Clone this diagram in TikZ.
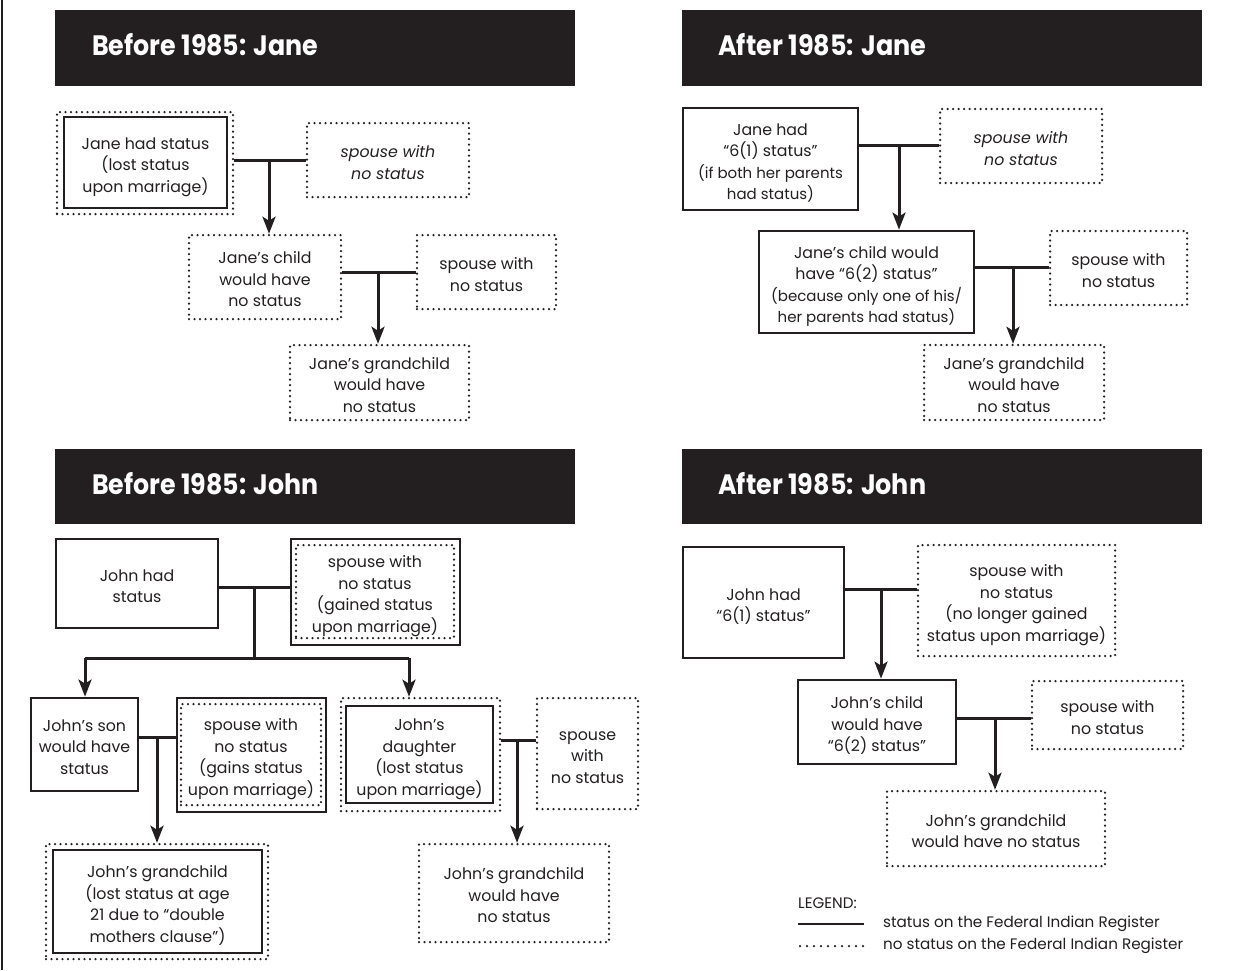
\documentclass[tikz,border=0pt]{standalone}
\usepackage{fontspec}
\setmainfont{Poppins}
\usetikzlibrary{arrows.meta}
\definecolor{ink}{HTML}{231F20}
\newcommand\maintext{\fontsize{15.8}{21.5}\selectfont}
\newcommand\smalltext{\fontsize{15}{21.5}\selectfont}
\newcommand\legtext{\fontsize{15.2}{21}\selectfont}
\newcommand\bt[1]{\raisebox{-4pt}[\height][\depth]{\begin{tabular}{@{}c@{}}#1\end{tabular}}}
\begin{document}
\begin{tikzpicture}[x=1pt,y=-1pt,
  sz/.style n args={2}{minimum width=#1 pt, minimum height=#2 pt},
  solidbox/.style={draw=ink, line width=2.8pt, rectangle, inner sep=0pt, font=\maintext, text=ink},
  dotbox/.style={draw=ink, line width=2.5pt, dash pattern=on 0pt off 5.5pt, line cap=round, rectangle, inner sep=0pt, font=\maintext, text=ink},
  conn/.style={draw=ink, line width=3pt},
  arr/.style={conn, -{Stealth[length=17pt,width=13pt,inset=4pt]}},
  dotline/.style={draw=ink, line width=2.5pt, dash pattern=on 0pt off 7pt, line cap=round},
  header/.style={fill=ink, inner sep=0pt, rectangle},
  title/.style={text=white, inner sep=0pt, anchor=base west, font=\bfseries}
]
\useasboundingbox (0,0) rectangle (1243,970);
\fill[white] (0,0) rectangle (1243,970);
% left border
\coordinate (bt) at (2,0);
\coordinate (bb) at (2,970);
\draw[ink, line width=2pt] (bt) -- (bb);

% ===== Headers =====
\node[header, sz={520}{76}] (h1) at (315,48) {};
\node[title] (t1) at (92,55) {\resizebox{226pt}{22pt}{Before 1985: Jane}};
\node[header, sz={520}{76}] (h2) at (942,48) {};
\node[title] (t2) at (718,55) {\resizebox{208pt}{22pt}{After 1985: Jane}};
\node[header, sz={520}{75}] (h3) at (315,486.5) {};
\node[title] (t3) at (92,494) {\resizebox{226pt}{22pt}{Before 1985: John}};
\node[header, sz={520}{75}] (h4) at (942,486.5) {};
\node[title] (t4) at (718,494) {\resizebox{208pt}{22pt}{After 1985: John}};

% ===== Q1: Before 1985 Jane =====
\node[dotbox, sz={176}{102}] (janeo) at (145,163) {};
\node[solidbox, sz={163}{91}] (jane) at (145.5,162.5) {\bt{Jane had status\\(lost status\\upon marriage)}};
\node[dotbox, sz={162}{74}] (sp1) at (388,160) {\bt{\itshape spouse with\\\itshape no status}};
\node[dotbox, sz={152}{84}] (ch1) at (265,277) {\bt{Jane’s child\\would have\\no status}};
\node[dotbox, sz={139}{74}] (sp2) at (486.5,272) {\bt{spouse with\\no status}};
\node[dotbox, sz={179}{75}] (gc1) at (379.5,382.5) {\bt{Jane’s grandchild\\would have\\no status}};
\coordinate (q1a) at (269,160);
\draw[conn] (janeo.east |- q1a) -- (sp1.west |- q1a);
\draw[arr] (q1a) -- (q1a |- ch1.north);
\coordinate (q1b) at (378,272);
\draw[conn] (ch1.east |- q1b) -- (sp2.west |- q1b);
\draw[arr] (q1b) -- (q1b |- gc1.north);

% ===== Q2: After 1985 Jane =====
\node[solidbox, sz={175}{102}] (jane2) at (770.5,159) {\bt{Jane had\\“6(1) status”\\\smalltext (if both her parents\\\smalltext had status)}};
\node[dotbox, sz={162}{74}] (sp3) at (1021,146) {\bt{\itshape spouse with\\\itshape no status}};
\node[solidbox, sz={215}{102}] (ch2) at (866.5,282) {\bt{Jane’s child would\\have “6(2) status”\\\smalltext (because only one of his/\\\smalltext her parents had status)}};
\node[dotbox, sz={137}{74}] (sp4) at (1118.5,268) {\bt{spouse with\\no status}};
\node[dotbox, sz={180}{75}] (gc2) at (1014,382.5) {\bt{Jane’s grandchild\\would have\\no status}};
\coordinate (q2a) at (899,145);
\draw[conn] (jane2.east |- q2a) -- (sp3.west |- q2a);
\draw[arr] (q2a) -- (q2a |- ch2.north);
\coordinate (q2b) at (1013,267);
\draw[conn] (ch2.east |- q2b) -- (sp4.west |- q2b);
\draw[arr] (q2b) -- (q2b |- gc2.north);

% ===== Q3: Before 1985 John =====
\node[solidbox, sz={162}{89}] (john) at (137,583.5) {\bt{John had\\status}};
\node[solidbox, sz={169}{106}] (jspo) at (375.5,592) {};
\node[dotbox, sz={158}{93}] (jsp) at (375,591.5) {\bt{spouse with\\no status\\(gained status\\upon marriage)}};
\node[solidbox, sz={107}{93}] (son) at (84.5,744.5) {\bt{John’s son\\would have\\status}};
\node[solidbox, sz={149}{114}] (sspo) at (251.5,755) {};
\node[dotbox, sz={140}{101}] (ssp) at (251,754.5) {\bt{spouse with\\no status\\(gains status\\upon marriage)}};
\node[dotbox, sz={159}{113}] (dauo) at (420.5,754.5) {};
\node[solidbox, sz={147}{97}] (dau) at (419.5,754.5) {\bt{John’s\\daughter\\(lost status\\upon marriage)}};
\node[dotbox, sz={101}{111}] (dsp) at (587.5,753.5) {\bt{spouse\\with\\no status}};
\node[dotbox, sz={222}{115}] (gc3o) at (157,901.5) {};
\node[solidbox, sz={209}{103}] (gc3) at (157.5,901.5) {\bt{John’s grandchild\\(lost status at age\\21 due to “double\\mothers clause”)}};
\node[dotbox, sz={190}{98}] (gc4) at (514,893) {\bt{John’s grandchild\\would have\\no status}};
\coordinate (q3a) at (254,587);
\coordinate (q3b) at (254,658);
\coordinate (q3c) at (85,658);
\coordinate (q3d) at (409,658);
\draw[conn] (john.east |- q3a) -- (jspo.west |- q3a);
\draw[conn] (q3a) -- (q3b);
\draw[conn] (q3c) -- (q3d);
\draw[arr] (q3c) -- (q3c |- son.north);
\draw[arr] (q3d) -- (q3d |- dauo.north);
\coordinate (q3e) at (157,737);
\draw[conn] (son.east |- q3e) -- (sspo.west |- q3e);
\draw[arr] (q3e) -- (q3e |- gc3o.north);
\coordinate (q3f) at (517,740);
\draw[conn] (dauo.east |- q3f) -- (dsp.west |- q3f);
\draw[arr] (q3f) -- (q3f |- gc4.north);

% ===== Q4: After 1985 John =====
\node[solidbox, sz={161}{111}] (john2) at (763.5,602.5) {\bt{John had\\“6(1) status”}};
\node[dotbox, sz={197}{111}] (sp5) at (1016.5,600.5) {\bt{spouse with\\no status\\(no longer gained\\status upon marriage)}};
\node[solidbox, sz={158}{84}] (ch4) at (877,722) {\bt{John’s child\\would have\\“6(2) status”}};
\node[dotbox, sz={151}{68}] (sp6) at (1107.5,715) {\bt{spouse with\\no status}};
\node[dotbox, sz={218}{75}] (gc5) at (996,828.5) {\bt{John’s grandchild\\would have no status}};
\coordinate (q4a) at (881,589);
\draw[conn] (john2.east |- q4a) -- (sp5.west |- q4a);
\draw[arr] (q4a) -- (q4a |- ch4.north);
\coordinate (q4b) at (995,718);
\draw[conn] (ch4.east |- q4b) -- (sp6.west |- q4b);
\draw[arr] (q4b) -- (q4b |- gc5.north);

% ===== Legend =====
\node[anchor=west, inner sep=0pt, font=\legtext, text=ink] (leg) at (798,903) {LEGEND:};
\coordinate (l1a) at (798,924);
\coordinate (l1b) at (864,924);
\coordinate (l2a) at (800,946);
\coordinate (l2b) at (864,946);
\draw[conn, line width=2.6pt] (l1a) -- (l1b);
\draw[dotline] (l2a) -- (l2b);
\node[anchor=west, inner sep=0pt, font=\legtext, text=ink] (leg1) at (883,924) {status on the Federal Indian Register};
\node[anchor=west, inner sep=0pt, font=\legtext, text=ink] (leg2) at (883,946) {no status on the Federal Indian Register};
\end{tikzpicture}
\end{document}
